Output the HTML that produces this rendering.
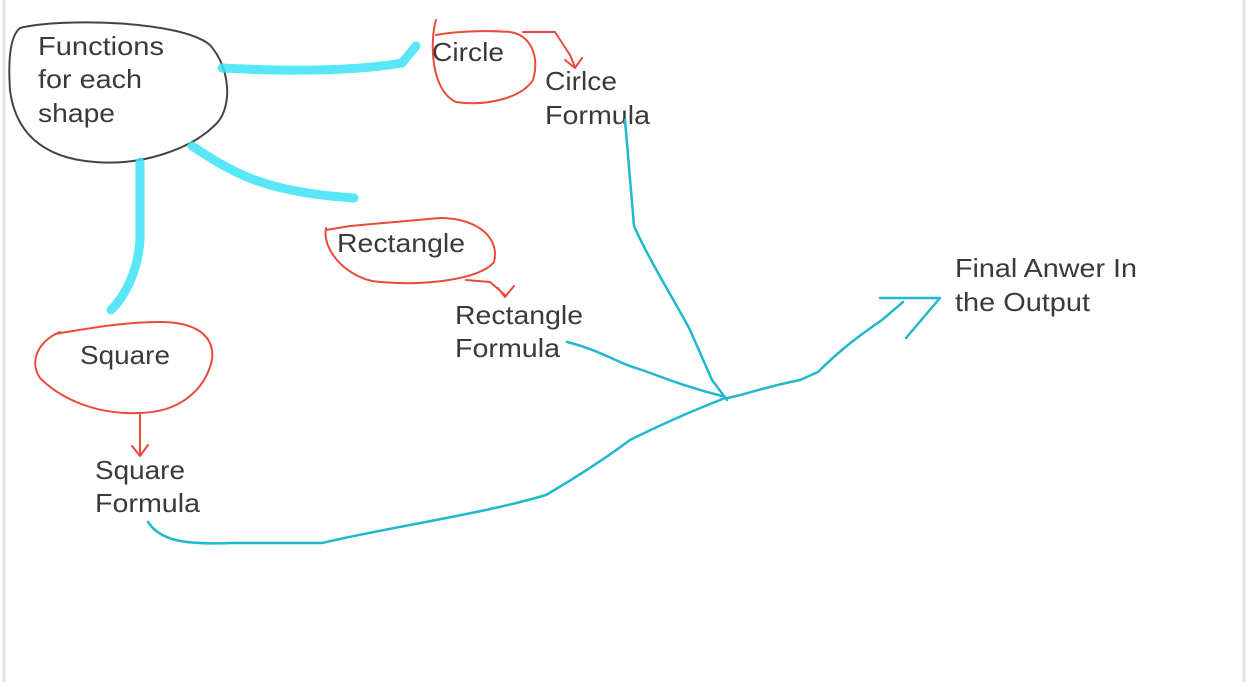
<!DOCTYPE html>
<html>
<head>
<meta charset="utf-8">
<style>
  html,body{margin:0;padding:0;background:#fff;width:1248px;height:682px;overflow:hidden;}
  svg{display:block;}
  text{font-family:"Liberation Sans",sans-serif;font-size:26px;fill:#3a3a3a;}
</style>
</head>
<body>
<svg width="1248" height="682" viewBox="0 0 1248 682">
  <line x1="4" y1="0" x2="4" y2="682" stroke="#e2e2e2" stroke-width="3"/>
  <line x1="1244" y1="0" x2="1244" y2="682" stroke="#e2e2e2" stroke-width="3"/>

  <path d="M20 28 C60 18,180 20,210 45 C232 70,232 110,215 125 C190 150,140 166,95 162 C40 158,15 130,10 90 C8 60,10 36,20 28 Z" fill="none" stroke="#444" stroke-width="2"/>
  <text x="38" y="55" textLength="126" lengthAdjust="spacingAndGlyphs">Functions</text>
  <text x="38" y="88" textLength="104" lengthAdjust="spacingAndGlyphs">for each</text>
  <text x="38" y="122" textLength="77" lengthAdjust="spacingAndGlyphs">shape</text>

  <g fill="none" stroke="#3ce3f7" stroke-width="9" stroke-linecap="round" opacity="0.85">
    <path d="M222 68 C280 71,350 72,402 63 L416 46"/>
    <path d="M192 146 C232 172,262 192,354 198"/>
    <path d="M140 162 L140 240 C138 270,126 295,111 310"/>
  </g>

  <g fill="none" stroke="#e94a3c" stroke-width="2" stroke-linecap="round" stroke-linejoin="round">
    <path d="M436 20 C430 40,430 90,456 102 C482 106,520 100,533 80 C540 55,530 35,510 32 C480 30,452 32,436 35"/>
    <path d="M523 32 L555 32 L570 55 L575 67 M565 60 L575 68 L582 58"/>
    <path d="M326 228 C322 250,345 275,372 281 C420 287,480 280,494 262 C500 240,480 218,440 218 L350 226 L326 230"/>
    <path d="M466 280 L490 282 L505 295 M498 288 L505 297 L514 286"/>
    <path d="M60 332 C40 340,28 360,40 378 C60 398,95 415,140 413 C180 412,205 390,212 360 C215 335,195 322,160 322 C120 322,80 330,55 334"/>
    <path d="M140 415 L140 454 M132 446 L140 456 L148 445"/>
  </g>

  <text x="432" y="61" textLength="72" lengthAdjust="spacingAndGlyphs">Circle</text>
  <text x="545" y="90" textLength="72" lengthAdjust="spacingAndGlyphs">Cirlce</text>
  <text x="545" y="124" textLength="105" lengthAdjust="spacingAndGlyphs">Formula</text>
  <text x="337" y="252" textLength="128" lengthAdjust="spacingAndGlyphs">Rectangle</text>
  <text x="455" y="324" textLength="128" lengthAdjust="spacingAndGlyphs">Rectangle</text>
  <text x="455" y="357" textLength="105" lengthAdjust="spacingAndGlyphs">Formula</text>
  <text x="80" y="364" textLength="90" lengthAdjust="spacingAndGlyphs">Square</text>
  <text x="95" y="479" textLength="90" lengthAdjust="spacingAndGlyphs">Square</text>
  <text x="95" y="512" textLength="105" lengthAdjust="spacingAndGlyphs">Formula</text>
  <text x="955" y="277" textLength="182" lengthAdjust="spacingAndGlyphs">Final Anwer In</text>
  <text x="955" y="311" textLength="135" lengthAdjust="spacingAndGlyphs">the Output</text>

  <g fill="none" stroke="#1fb8cc" stroke-width="2.5" stroke-linecap="round" stroke-linejoin="round">
    <path d="M625 120 L634 226 C650 262,680 310,690 330 L712 380 L727 400"/>
    <path d="M567 342 C600 350,620 364,636 368 C660 376,682 386,722 396"/>
    <path d="M148 522 C160 540,182 545,232 543 L322 543 C400 525,482 514,546 495 C580 475,610 455,630 440 C670 420,700 408,725 398"/>
    <path d="M727 398 C745 395,760 388,800 380 L818 372 C840 350,860 335,882 320 L903 302"/>
    <path d="M880 298 L940 298 L906 338"/>
  </g>
</svg>
</body>
</html>
